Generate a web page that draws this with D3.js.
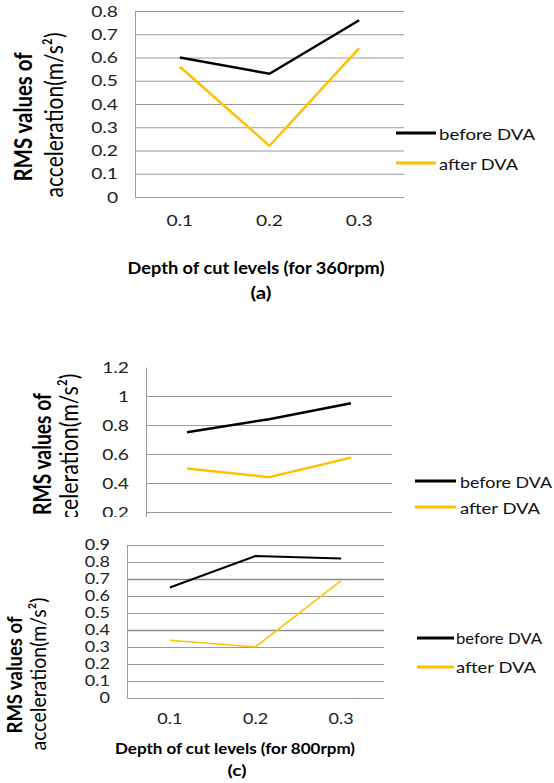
<!DOCTYPE html>
<html>
<head>
<meta charset="utf-8">
<script src="https://cdn.jsdelivr.net/npm/d3@7"></script>
<style>
  body { margin: 0; background: #fff; }
  svg { display: block; font-family: Lato, "Open Sans", sans-serif; }
</style>
</head>
<body>
<div id="chart"></div>
<script>
// values
const depthLevels = ['0.1', '0.2', '0.3'];
const seriesNames = ['before DVA', 'after DVA'];

const before360 = [0.6, 0.53, 0.76];
const after360 = [0.56, 0.22, 0.64];
const beforeMid = [0.75, 0.84, 0.95];
const afterMid = [0.5, 0.44, 0.575];
const before800 = [0.65, 0.835, 0.82];
const after800 = [0.34, 0.3, 0.69];

const ticks360 = [0, 0.1, 0.2, 0.3, 0.4, 0.5, 0.6, 0.7, 0.8];
const ticksMid = [0, 0.2, 0.4, 0.6, 0.8, 1, 1.2];
const ticks800 = [0, 0.1, 0.2, 0.3, 0.4, 0.5, 0.6, 0.7, 0.8, 0.9];

const yTitleLines = ['RMS values of', 'acceleration(m/s²)'];
const xTitle360 = 'Depth of cut levels (for 360rpm)';
const xTitle800 = 'Depth of cut levels (for 800rpm)';

const colors = ['#000000', '#ffc000'];
const gridColor = '#9a9a9a';
const stretch = 1.2; // the source picture is widened a bit

const svg = d3.select('#chart').append('svg')
  .attr('width', 554)
  .attr('height', 783);

svg.append('defs').append('clipPath')
  .attr('id', 'clipMid')
  .append('rect')
  .attr('x', 0).attr('y', 330).attr('width', 554).attr('height', 187);

const fmt = d => String(+d.toFixed(1));

function widen(sel) {
  sel.each(function () {
    const w = this.getComputedTextLength();
    d3.select(this).attr('textLength', w * stretch).attr('lengthAdjust', 'spacingAndGlyphs');
  });
}

function hText(g, t, x, y, size, len, bold) {
  g.append('text')
    .attr('x', x).attr('y', y)
    .attr('text-anchor', 'middle')
    .attr('dominant-baseline', 'central')
    .attr('font-size', size)
    .attr('font-weight', bold ? 'bold' : 'normal')
    .attr('fill', '#000')
    .attr('textLength', len)
    .attr('lengthAdjust', 'spacingAndGlyphs')
    .text(t);
}

function vText(g, t, x, y, size, len, bold) {
  g.append('text')
    .attr('transform', `translate(${x},${y}) rotate(-90) scale(1,1.35)`)
    .attr('text-anchor', 'middle')
    .attr('dominant-baseline', 'central')
    .attr('font-size', size)
    .attr('font-weight', bold ? 'bold' : 'normal')
    .attr('fill', '#000')
    .attr('textLength', len)
    .attr('lengthAdjust', 'spacingAndGlyphs')
    .text(t);
}

function drawPanel(p) {
  const g = svg.append('g').attr('clip-path', p.clip ? `url(#${p.clip})` : null);

  const x = d3.scaleBand().domain(depthLevels).range([p.left, p.right]);
  const y = d3.scaleLinear().domain([0, d3.max(p.ticks)]).range([p.bottom, p.top]);
  const w = p.right - p.left;

  // gridlines
  const gridTicks = p.topGrid ? p.ticks : p.ticks.slice(0, -1);
  const grid = g.append('g')
    .attr('transform', `translate(${p.left},0)`)
    .call(d3.axisLeft(y).tickValues(gridTicks).tickSize(-w).tickFormat(''));
  grid.select('.domain').remove();
  grid.selectAll('.tick line')
    .attr('stroke', d => (p.heavy || []).includes(d) ? '#8c8c8c' : gridColor)
    .attr('stroke-width', d => (p.heavy || []).includes(d) ? 1.6 : 1);

  // y axis with labels
  const yAxis = g.append('g')
    .attr('transform', `translate(${p.left},0)`)
    .call(d3.axisLeft(y).tickValues(p.ticks).tickSize(0).tickSizeOuter(0).tickPadding(17).tickFormat(fmt));
  yAxis.select('.domain').attr('stroke', gridColor);
  yAxis.selectAll('text')
    .attr('font-size', p.tickSize)
    .attr('font-family', 'Lato, "Open Sans", sans-serif')
    .attr('fill', '#222')
    .call(widen);

  // x axis labels
  if (p.xLabelY) {
    const xAxis = g.append('g')
      .attr('transform', `translate(0,${p.bottom})`)
      .call(d3.axisBottom(x).tickSize(0).tickPadding(p.xLabelY - p.bottom - 7));
    xAxis.select('.domain').remove();
    xAxis.selectAll('text')
      .attr('font-size', p.tickSize)
      .attr('font-family', 'Lato, "Open Sans", sans-serif')
      .attr('fill', '#222')
      .call(widen);
  }

  // series
  const line = d3.line()
    .x((d, i) => x(depthLevels[i]) + x.bandwidth() / 2)
    .y(d => y(d));

  p.series.forEach((s, i) => {
    g.append('path')
      .datum(s)
      .attr('fill', 'none')
      .attr('stroke', colors[i])
      .attr('stroke-width', p.lineWidths[i])
      .attr('stroke-linejoin', 'miter')
      .attr('d', line);
  });

  // legend
  const lg = p.legend;
  seriesNames.forEach((name, i) => {
    g.append('line')
      .attr('x1', lg.x1).attr('x2', lg.x2)
      .attr('y1', lg.ys[i]).attr('y2', lg.ys[i])
      .attr('stroke', colors[i])
      .attr('stroke-width', 3);
    g.append('text')
      .attr('x', lg.tx).attr('y', lg.ys[i])
      .attr('dominant-baseline', 'central')
      .attr('font-size', lg.size)
      .attr('fill', '#111')
      .attr('textLength', lg.lens[i])
      .attr('lengthAdjust', 'spacingAndGlyphs')
      .text(name);
  });

  // titles
  vText(g, yTitleLines[0], p.yt[0].x, p.yt[0].y, p.titleSize, p.yt[0].len, true);
  vText(g, yTitleLines[1], p.yt[1].x, p.yt[1].y, p.titleSize, p.yt[1].len, false);
  if (p.xTitle) {
    hText(g, p.xTitle, p.xt.x, p.xt.y, p.xt.size, p.xt.len, true);
    hText(g, p.tag, p.tg.x, p.tg.y, p.xt.size, p.tg.len, true);
  }
}

// (a) 360 rpm
drawPanel({
  left: 135, right: 404, top: 11, bottom: 197,
  ticks: ticks360, topGrid: true, tickSize: 16,
  xLabelY: 222,
  series: [before360, after360], lineWidths: [2.5, 2.5],
  legend: {x1: 396, x2: 436, tx: 439, ys: [133, 163], lens: [96, 79], size: 16},
  titleSize: 18,
  yt: [{x: 23, y: 117, len: 129}, {x: 54, y: 115, len: 165}],
  xTitle: xTitle360, xt: {x: 256, y: 267, len: 257, size: 17},
  tag: '(a)', tg: {x: 261, y: 292, len: 21}
});

// middle panel, cut off at the bottom
drawPanel({
  left: 146, right: 392, top: 367, bottom: 541,
  ticks: ticksMid, topGrid: false, tickSize: 16,
  clip: 'clipMid',
  series: [beforeMid, afterMid], lineWidths: [2.5, 2.5],
  legend: {x1: 415, x2: 456, tx: 460, ys: [481, 507], lens: [92, 80], size: 16},
  titleSize: 18,
  yt: [{x: 42, y: 454, len: 122}, {x: 69, y: 457, len: 167}]
});

// (c) 800 rpm
drawPanel({
  left: 127, right: 384, top: 545, bottom: 698,
  ticks: ticks800, topGrid: true, tickSize: 15, heavy: [0.4, 0.7],
  xLabelY: 720,
  series: [before800, after800], lineWidths: [2, 1.6],
  legend: {x1: 417, x2: 454, tx: 456, ys: [638, 667], lens: [86, 80], size: 15},
  titleSize: 16,
  yt: [{x: 13, y: 675, len: 117}, {x: 37, y: 674, len: 153}],
  xTitle: xTitle800, xt: {x: 235, y: 748, len: 240, size: 15},
  tag: '(c)', tg: {x: 237, y: 770, len: 19}
});
</script>
</body>
</html>
